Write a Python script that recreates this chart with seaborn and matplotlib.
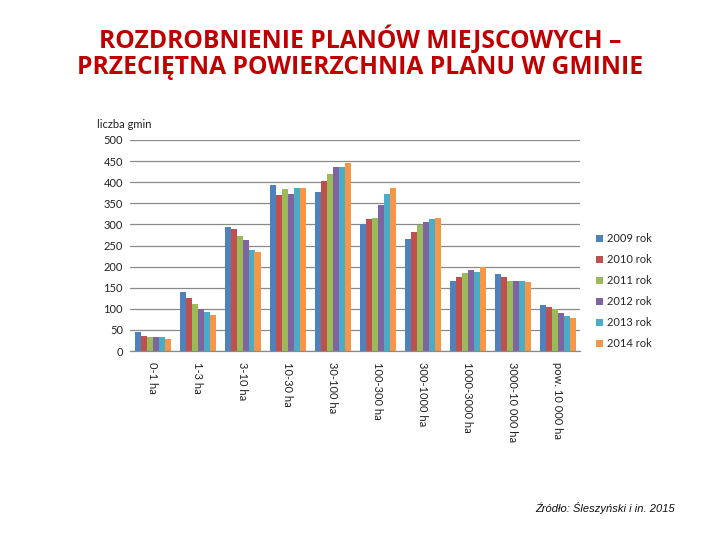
import matplotlib
matplotlib.use("Agg")
import matplotlib.pyplot as plt
import seaborn as sns
import pandas as pd
import numpy as np

categories = ["0-1 ha", "1-3 ha", "3-10 ha", "10-30 ha", "30-100 ha", "100-300 ha",
              "300-1000 ha", "1000-3000 ha", "3000-10 000 ha", "pow. 10 000 ha"]
years = ["2009 rok", "2010 rok", "2011 rok", "2012 rok", "2013 rok", "2014 rok"]
v2009 = [45, 139, 294, 393, 377, 302, 265, 166, 182, 109]
v2010 = [35, 125, 289, 369, 403, 313, 283, 175, 175, 104]
v2011 = [32, 111, 272, 384, 419, 316, 299, 184, 167, 99]
v2012 = [32, 99, 263, 371, 436, 345, 305, 192, 167, 90]
v2013 = [32, 92, 239, 386, 436, 371, 312, 188, 167, 83]
v2014 = [28, 85, 234, 386, 446, 387, 316, 200, 163, 78]
yticks = [0, 50, 100, 150, 200, 250, 300, 350, 400, 450, 500]
colors = ["#4F81BD", "#C0504D", "#9BBB59", "#8064A2", "#4BACC6", "#F79646"]

series = [v2009, v2010, v2011, v2012, v2013, v2014]
rows = []
for y, vals in zip(years, series):
    for c, v in zip(categories, vals):
        rows.append({"kategoria": c, "rok": y, "liczba": v})
df = pd.DataFrame(rows)

sns.set_theme(style="white")
plt.rcParams['font.family'] = ['Lato', 'DejaVu Sans']

fig = plt.figure(figsize=(7.2, 5.4), dpi=100)
ax = fig.add_axes([130/720, 1-351/540, 450/720, 211/540])
sns.barplot(data=df, x="kategoria", y="liczba", hue="rok", order=categories,
            hue_order=years, palette=colors, width=0.8, saturation=1,
            linewidth=0, ax=ax)

ax.set_ylim(0, 500)
ax.set_xlim(-0.5, len(categories) - 0.5)
ax.set_yticks(yticks)
ax.set_yticklabels([str(t) for t in yticks], fontsize=8, color="#222222")
ax.yaxis.grid(True, color="#8a8a8a", linewidth=0.9)
ax.set_axisbelow(True)
ax.set_xlabel("")
ax.set_ylabel("")
ax.tick_params(axis="y", length=0, pad=5)
ax.set_xticks(range(len(categories)))
ax.set_xticklabels(categories, rotation=270, fontsize=8, color="#222222",
                   va="top", ha="center")
ax.tick_params(axis="x", which="major", length=0, pad=8)
ax.set_xticks(np.arange(-0.5, len(categories), 1.0), minor=True)
ax.tick_params(axis="x", which="minor", length=5, width=0.9, color="#8a8a8a", direction="out")
for s in ["top", "right", "left"]:
    ax.spines[s].set_visible(False)
ax.spines["bottom"].set_color("#8a8a8a")
ax.spines["bottom"].set_linewidth(0.9)

handles, labels = ax.get_legend_handles_labels()
ax.legend(handles, labels, loc="center left", bbox_to_anchor=(586/720, 1-291/540),
          bbox_transform=fig.transFigure, frameon=False, fontsize=8,
          handlelength=0.6, handleheight=0.6, handletextpad=0.4, labelspacing=0.9)

fig.text(97/720, 1-125/540, "liczba gmin", fontsize=8, color="#222222",
         ha="left", va="center")

fig.text(0.5, 1-40/540, "ROZDROBNIENIE PLANÓW MIEJSCOWYCH –", fontsize=17.7,
         fontweight="bold", color="#C00000", ha="center", va="center",
         family=["Open Sans", "DejaVu Sans"])
fig.text(0.5, 1-68/540, "PRZECIĘTNA POWIERZCHNIA PLANU W GMINIE", fontsize=17.7,
         fontweight="bold", color="#C00000", ha="center", va="center",
         family=["Open Sans", "DejaVu Sans"])

fig.text(675/720, 1-508/540, "Źródło: Śleszyński i in. 2015", fontsize=8,
         style="italic", color="#111111", ha="right", va="center",
         family=["Liberation Sans", "DejaVu Sans"])

fig.savefig("out.png", dpi=100)
